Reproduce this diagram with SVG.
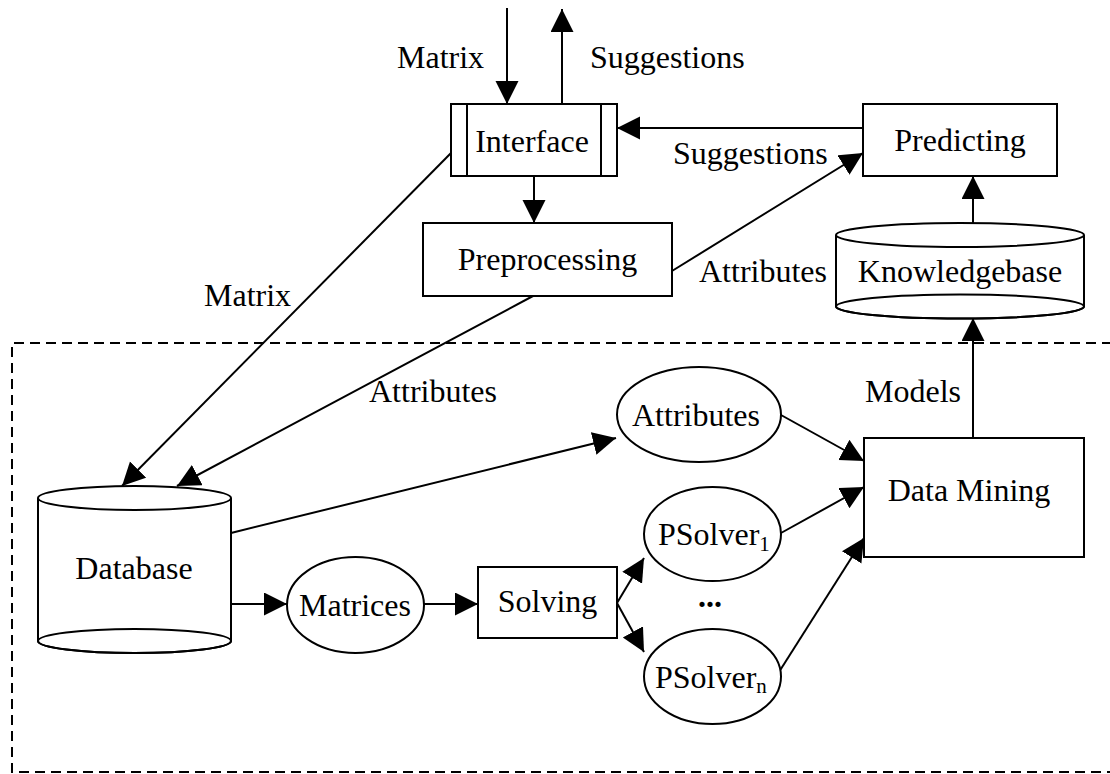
<svg xmlns="http://www.w3.org/2000/svg" width="1110" height="774" viewBox="0 0 1110 774">
<defs>
<marker id="ah" markerUnits="userSpaceOnUse" markerWidth="24" markerHeight="24" refX="23" refY="11.5" orient="auto">
<path d="M0,0 L23,11.5 L0,23 z" fill="#000"/>
</marker>
<style>
.s{fill:#fff;stroke:#000;stroke-width:2}
.n{fill:none;stroke:#000;stroke-width:2}
.c{fill:none;stroke:#000;stroke-width:2;marker-end:url(#ah)}
text{font-family:"Liberation Serif","Times New Roman",serif;font-size:32px;fill:#000}
.m{text-anchor:middle}
</style>
</defs>
<rect width="1110" height="774" fill="#fff"/>
<path d="M1112,343 H12 V772 H1112" fill="none" stroke="#000" stroke-width="2" stroke-dasharray="10,6"/>
<g id="connectors">
<line class="c" x1="507" y1="8" x2="507" y2="104"/>
<line class="c" x1="562" y1="104" x2="562" y2="9"/>
<line class="c" x1="863" y1="128" x2="617" y2="128"/>
<line class="c" x1="534" y1="176" x2="534" y2="223"/>
<line class="c" x1="672" y1="271" x2="863" y2="153"/>
<line class="c" x1="973" y1="223" x2="973" y2="176"/>
<line class="c" x1="973" y1="438" x2="973" y2="318"/>
<line class="c" x1="451" y1="153" x2="122" y2="486"/>
<line class="c" x1="533" y1="296" x2="177" y2="486"/>
<line class="c" x1="231" y1="533" x2="616" y2="438"/>
<line class="c" x1="231" y1="604" x2="287" y2="604"/>
<line class="c" x1="424" y1="604" x2="478" y2="604"/>
<line class="c" x1="617" y1="603" x2="644" y2="558"/>
<line class="c" x1="617" y1="603" x2="644" y2="652"/>
<line class="c" x1="781" y1="415" x2="864" y2="461"/>
<line class="c" x1="781" y1="533" x2="864" y2="487"/>
<line class="c" x1="779" y1="672" x2="864" y2="538"/>
<text x="397" y="68">Matrix</text>
<text x="590" y="68">Suggestions</text>
<text x="673" y="164">Suggestions</text>
<text x="699" y="282">Attributes</text>
<text x="204" y="306">Matrix</text>
<text x="369" y="402">Attributes</text>
<text x="865" y="402">Models</text>
</g>
<g id="interface">
<rect class="s" x="451" y="104" width="166" height="72"/>
<line class="n" x1="467" y1="104" x2="467" y2="176"/>
<line class="n" x1="601" y1="104" x2="601" y2="176"/>
<text class="m" x="532" y="152">Interface</text>
</g>
<g id="preprocessing">
<rect class="s" x="423" y="223" width="249" height="73"/>
<text class="m" x="547.5" y="270">Preprocessing</text>
</g>
<g id="predicting">
<rect class="s" x="863" y="104" width="194" height="72"/>
<text class="m" x="960" y="151">Predicting</text>
</g>
<g id="knowledgebase">
<path class="s" d="M836,235 V306.5 A124,12 0 0 0 1084,306.5 V235"/>
<ellipse class="s" cx="960" cy="235" rx="124" ry="12"/>
<ellipse class="n" cx="960" cy="306.5" rx="124" ry="12"/>
<text class="m" x="960" y="282">Knowledgebase</text>
</g>
<g id="database">
<path class="s" d="M38,498 V641 A96.5,12 0 0 0 231,641 V498"/>
<ellipse class="s" cx="134.5" cy="498" rx="96.5" ry="12"/>
<ellipse class="n" cx="134.5" cy="641" rx="96.5" ry="12"/>
<text class="m" x="134" y="579">Database</text>
</g>
<g id="attributes">
<ellipse class="s" cx="699" cy="414.5" rx="82" ry="47.5"/>
<text class="m" x="696" y="426">Attributes</text>
</g>
<g id="matrices">
<ellipse class="s" cx="355.5" cy="605" rx="68.5" ry="48"/>
<text class="m" x="355" y="616">Matrices</text>
</g>
<g id="solving">
<rect class="s" x="478" y="567" width="139" height="71"/>
<text class="m" x="547.5" y="612">Solving</text>
</g>
<g id="psolver1">
<ellipse class="s" cx="712.5" cy="534" rx="68.5" ry="47"/>
<text x="658" y="545">PSolver<tspan font-size="21" dy="6">1</tspan></text>
</g>
<g id="dots">
<text class="m" x="710" y="607" font-weight="bold">...</text>
</g>
<g id="psolvern">
<ellipse class="s" cx="712.5" cy="676.5" rx="68.5" ry="47.5"/>
<text x="655" y="688">PSolver<tspan font-size="21" dy="5">n</tspan></text>
</g>
<g id="datamining">
<rect class="s" x="864" y="438" width="220" height="119"/>
<text class="m" x="969" y="501">Data Mining</text>
</g>
</svg>
